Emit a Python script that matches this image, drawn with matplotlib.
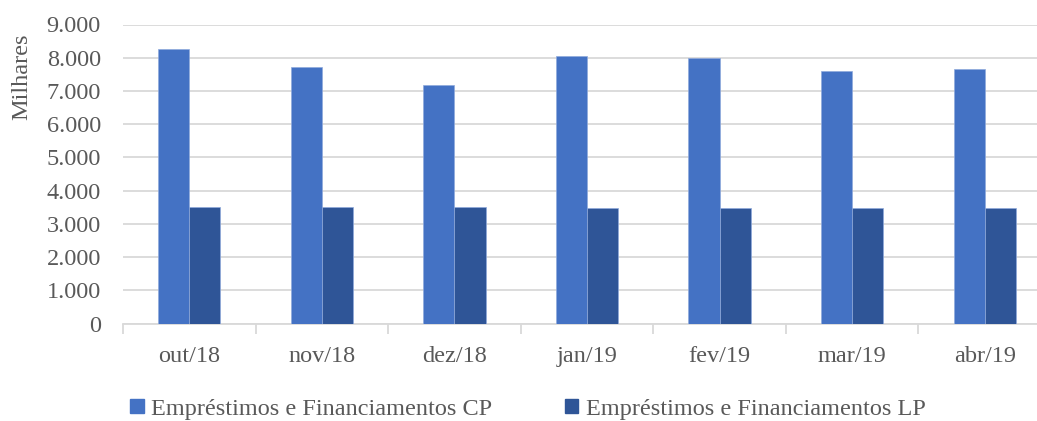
import matplotlib
matplotlib.use("Agg")
import matplotlib.pyplot as plt
from matplotlib.patches import Patch
from matplotlib.ticker import FuncFormatter

months = ["out/18", "nov/18", "dez/18", "jan/19", "fev/19", "mar/19", "abr/19"]
cp = [8270, 7720, 7190, 8060, 8000, 7590, 7670]
lp = [3500, 3500, 3500, 3480, 3480, 3480, 3480]
labels = ["Empréstimos e Financiamentos CP", "Empréstimos e Financiamentos LP"]

C_CP, C_LP = "#4472C4", "#2F5597"
GREY = "#595959"
FS = 17.5
plt.rcParams["font.family"] = ["Liberation Serif", "DejaVu Serif"]

fig = plt.figure(figsize=(10.37, 4.21), dpi=100)
ax = fig.add_axes([123 / 1037, 97.5 / 421, 928 / 1037, 299 / 421])

x = range(len(months))
w = 0.235
ax.bar([i - w / 2 for i in x], cp, w, color=C_CP, edgecolor="#8FAADC", lw=0.5, zorder=3)
ax.bar([i + w / 2 for i in x], lp, w, color=C_LP, edgecolor="#8FAADC", lw=0.5, zorder=3)

ax.set_xlim(-0.5, len(months) - 0.5)
ax.set_ylim(0, 9000)
ax.set_yticks(range(0, 9001, 1000))
ax.yaxis.set_major_formatter(FuncFormatter(lambda v, p: f"{int(v):,}".replace(",", ".")))
ax.grid(axis="y", color="#D9D9D9", lw=1.3, zorder=0)
ax.set_xticks(list(x))
ax.set_xticklabels(months)
ax.set_xticks([i - 0.5 for i in range(len(months) + 1)], minor=True)
ax.tick_params(axis="x", which="major", length=0, pad=16, labelsize=FS, labelcolor=GREY)
ax.tick_params(axis="x", which="minor", length=7, color="#D9D9D9", width=1.3)
ax.tick_params(axis="y", length=0, pad=16, labelsize=FS, labelcolor=GREY)
for s in ["top", "right", "left"]:
    ax.spines[s].set_visible(False)
ax.spines["bottom"].set_color("#D9D9D9")
ax.spines["bottom"].set_linewidth(1.3)

fig.text(22 / 1037, 1 - 77 / 421, "Milhares", rotation=90, ha="center", va="center",
         fontsize=FS, color=GREY)

handles = [Patch(color=C_CP), Patch(color=C_LP)]
fig.legend(handles, labels, loc="center", bbox_to_anchor=(528 / 1037, 1 - 409 / 421), ncol=2,
           frameon=False, fontsize=FS, labelcolor=GREY, handlelength=0.55, handleheight=0.55,
           handletextpad=0.3, columnspacing=3.0)

fig.savefig("out.png", dpi=100)
